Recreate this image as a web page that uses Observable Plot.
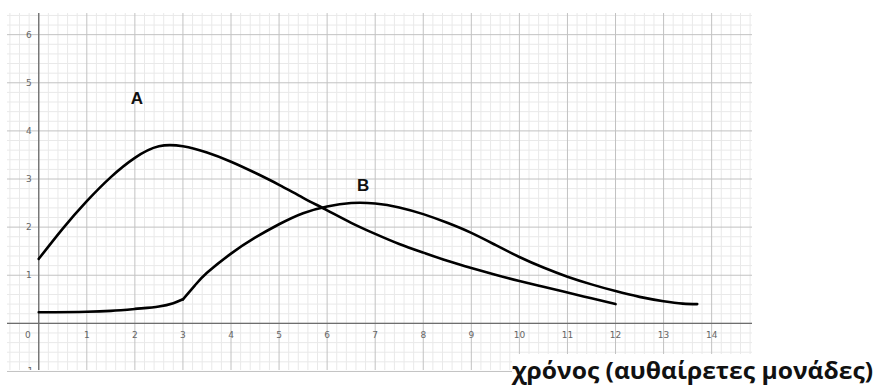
<!DOCTYPE html>
<html>
<head>
<meta charset="utf-8">
<script src="https://cdn.jsdelivr.net/npm/d3@7"></script>
<script src="https://cdn.jsdelivr.net/npm/@observablehq/plot@0.6"></script>
<style>
  html, body { margin: 0; padding: 0; background: #fff; }
  #wrap { position: relative; width: 877px; height: 385px; overflow: hidden; }
  #title { position: absolute; left: 512px; top: 354px; font-family: "Open Sans", "Noto Sans", sans-serif; font-weight: 700; font-size: 24px; color: #111; background: #fff; white-space: nowrap; line-height: 31px; transform-origin: 0 0; }
</style>
</head>
<body>
<div id="wrap"><div id="chart"></div><div id="title">χρόνος (αυθαίρετες μονάδες)</div></div>
<script>
// Curve A
const aX = [0, 0.5, 1, 1.5, 2, 2.5, 3, 3.5, 4, 4.5, 5, 5.5, 6, 6.5, 7, 7.5, 8, 8.5, 9, 9.5, 10, 10.5, 11, 11.5, 12];
const aY = [1.34, 1.97, 2.54, 3.04, 3.44, 3.68, 3.68, 3.55, 3.36, 3.13, 2.88, 2.61, 2.35, 2.09, 1.86, 1.65, 1.47, 1.30, 1.15, 1.01, 0.88, 0.76, 0.64, 0.52, 0.40];
// Curve B (flat start up to the kink at x=3, then the hump)
const bX1 = [0, 1, 1.5, 2, 2.5, 2.8, 3];
const bY1 = [0.23, 0.24, 0.26, 0.30, 0.35, 0.42, 0.50];
const bX2 = [3, 3.25, 3.5, 4, 4.5, 5, 5.5, 6, 6.5, 7, 7.5, 8, 8.5, 9, 9.5, 10, 10.5, 11, 11.5, 12, 12.5, 13, 13.4, 13.7];
const bY2 = [0.50, 0.79, 1.05, 1.45, 1.78, 2.06, 2.29, 2.43, 2.50, 2.49, 2.41, 2.27, 2.09, 1.88, 1.63, 1.38, 1.16, 0.97, 0.81, 0.67, 0.55, 0.46, 0.41, 0.40];
// Tick labels
const xTicks = [1, 2, 3, 4, 5, 6, 7, 8, 9, 10, 11, 12, 13, 14];
const yTicks = [-1, 1, 2, 3, 4, 5, 6];
// Curve labels
const labelText = ["A", "B"];
const labelX = [2.04, 6.75];
const labelY = [4.67, 2.86];

const A = aX.map((x, i) => ({x, y: aY[i]}));
const B1 = bX1.map((x, i) => ({x, y: bY1[i]}));
const B2 = bX2.map((x, i) => ({x, y: bY2[i]}));
const labels = labelText.map((t, i) => ({t, x: labelX[i], y: labelY[i]}));

const xMin = -0.65, xMax = 14.85, yMin = -0.98, yMax = 6.44;
const minorX = d3.range(-3, 75).map(i => i / 5).filter(v => v >= xMin && v <= xMax && Math.abs(v - Math.round(v)) > 1e-6);
const minorY = d3.range(-5, 33).map(i => i / 5).filter(v => v >= yMin && v <= yMax && Math.abs(v - Math.round(v)) > 1e-6);
const majorX = d3.range(0, 15);
const majorY = d3.range(-1, 7);

const chart = Plot.plot({
  width: 877,
  height: 385,
  marginLeft: 7,
  marginRight: 125,
  marginTop: 13,
  marginBottom: 15,
  x: {domain: [xMin, xMax], axis: null},
  y: {domain: [yMin, yMax], axis: null},
  style: {background: "#fff"},
  marks: [
    Plot.ruleX(minorX, {stroke: "#e9e9e9", strokeWidth: 1}),
    Plot.ruleY(minorY, {stroke: "#e9e9e9", strokeWidth: 1}),
    Plot.ruleX(majorX, {stroke: "#c2c2c2", strokeWidth: 1}),
    Plot.ruleY(majorY, {stroke: "#c2c2c2", strokeWidth: 1}),
    Plot.ruleX([0], {stroke: "#6e6e6e", strokeWidth: 1.3}),
    Plot.ruleY([0], {stroke: "#6e6e6e", strokeWidth: 1.3}),
    Plot.text(xTicks, {x: d => d, y: 0, dy: 12, text: d => String(d), fill: "#666", fontSize: 9, fontFamily: "DejaVu Sans, sans-serif"}),
    Plot.text([0], {x: 0, y: 0, dx: -11, dy: 12, text: d => String(d), fill: "#666", fontSize: 9, fontFamily: "DejaVu Sans, sans-serif"}),
    Plot.text(yTicks, {x: 0, y: d => d, dx: -10, text: d => String(d), fill: "#666", fontSize: 9, fontFamily: "DejaVu Sans, sans-serif", clip: true}),
    Plot.line(A, {x: "x", y: "y", stroke: "#000", strokeWidth: 2.6, curve: "natural"}),
    Plot.line(B1, {x: "x", y: "y", stroke: "#000", strokeWidth: 2.6, curve: "catmull-rom"}),
    Plot.line(B2, {x: "x", y: "y", stroke: "#000", strokeWidth: 2.6, curve: "natural"}),
    Plot.text(labels, {x: "x", y: "y", text: "t", fill: "#111", fontSize: 17, fontWeight: "bold", fontFamily: "Liberation Sans, Arial, sans-serif"})
  ]
});
document.getElementById("chart").appendChild(chart);

// squeeze the caption horizontally to the width it has in the reference
const title = document.getElementById("title");
const w = title.getBoundingClientRect().width;
title.style.transform = "scaleX(" + (361 / w).toFixed(4) + ")";
</script>
</body>
</html>
